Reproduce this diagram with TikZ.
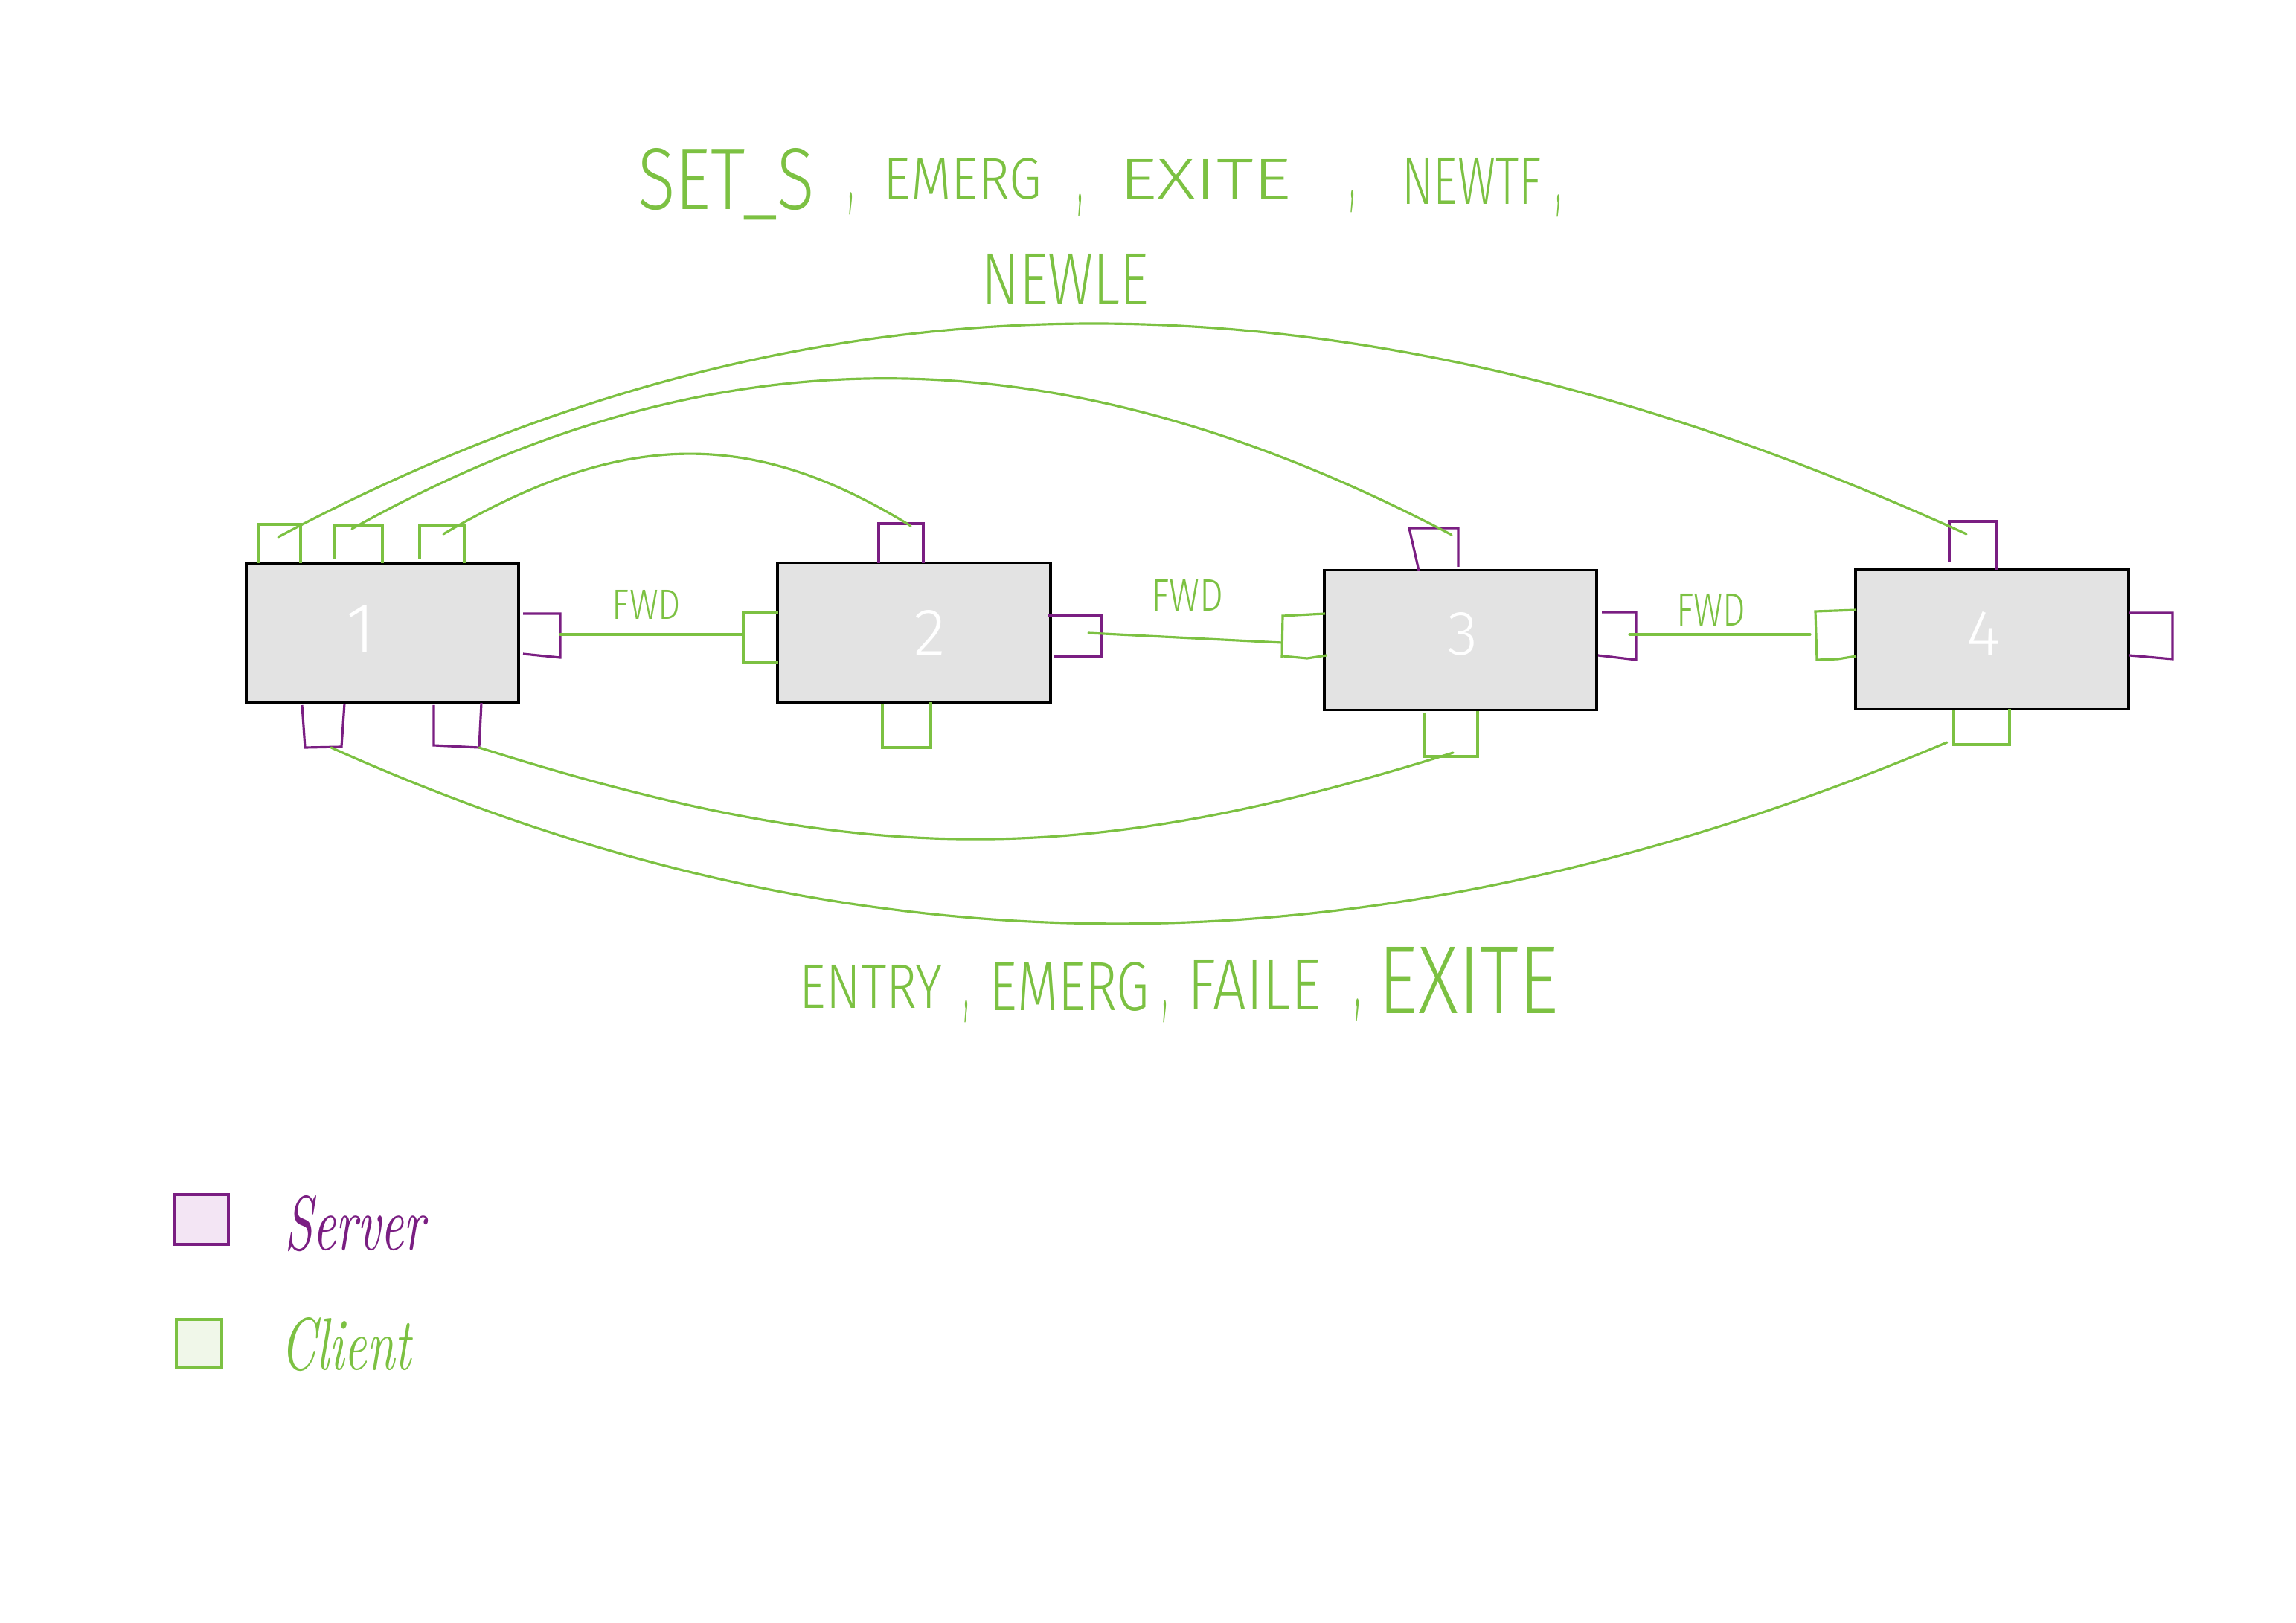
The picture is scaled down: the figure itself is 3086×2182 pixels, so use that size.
\documentclass[tikz,border=0pt]{standalone}
\usepackage{fontspec}
\usepackage{graphicx}
\newfontfamily\handfont{Fira Sans Light}
\definecolor{cgreen}{RGB}{124,193,66}
\definecolor{cpurple}{RGB}{122,30,130}
\definecolor{boxgray}{RGB}{227,227,227}
\definecolor{lpurple}{RGB}{243,229,244}
\definecolor{lgreen}{RGB}{240,247,233}
\newcommand{\hwtext}[3]{\resizebox{#1}{#2}{\handfont #3}}
\newcommand{\hwcomma}{\resizebox*{0.07cm}{0.30cm}{\handfont ,}}
\begin{document}
\begin{tikzpicture}[x=0.01cm,y=-0.01cm,
  boxnode/.style={draw=black,fill=boxgray,line width=1.1pt,inner sep=0pt,minimum width=3.66cm,minimum height=1.88cm},
  numlabel/.style={text=white,inner sep=0pt,anchor=base},
  gtext/.style={text=cgreen,inner sep=0pt,anchor=base},
  commanode/.style={text=cgreen,inner sep=0pt,anchor=center},
  clientstub/.style={draw=cgreen,line width=0.9pt,line join=miter},
  serverstub/.style={draw=cpurple,line width=0.9pt,line join=miter},
  link/.style={draw=cgreen,line width=0.9pt,line cap=round}]
\fill[white] (0,0) rectangle (3086,2182);
\useasboundingbox (0,0) rectangle (3086,2182);

% boxes
\node[boxnode] (b1) at (514,851) {};
\node[boxnode] (b2) at (1228.5,850.5) {};
\node[boxnode] (b3) at (1963,860.5) {};
\node[boxnode] (b4) at (2677.5,859.5) {};

\node[numlabel] (n1) at (485,878) {\resizebox{!}{0.63cm}{\handfont 1}};
\node[numlabel] (n2) at (1250,880) {\resizebox{!}{0.60cm}{\handfont 2}};
\node[numlabel] (n3) at (1966,880) {\resizebox{!}{0.57cm}{\handfont 3}};
\node[numlabel] (n4) at (2666,882) {\resizebox{!}{0.59cm}{\handfont 4}};

% stubs box 1
\draw[clientstub] (347,757) -- (347,705) -- (404,705) -- (404,757);
\draw[clientstub] (449,752) -- (449,707) -- (514,707) -- (514,757);
\draw[clientstub] (564,752) -- (564,707) -- (624,707) -- (624,757);
\draw[serverstub] (703,825) -- (753,825) -- (753,884) -- (703,879);
\draw[serverstub] (406,948) -- (410,1005) -- (459,1004) -- (463,946);
\draw[serverstub] (583,948) -- (583,1002) -- (644,1005) -- (647,945);
% stubs box 2
\draw[clientstub] (1046,823) -- (999,823) -- (999,891) -- (1046,891);
\draw[serverstub] (1181,757) -- (1181,704) -- (1241,704) -- (1241,757);
\draw[serverstub] (1408,828) -- (1480,828) -- (1480,882) -- (1416,882);
\draw[clientstub] (1186,946) -- (1186,1005) -- (1251,1005) -- (1251,944);
% stubs box 3
\draw[clientstub] (1781,825) -- (1724,828) -- (1723,884);
\draw[clientstub] (1724,882) -- (1757,885) -- (1783,881);
\draw[serverstub] (1907,767) -- (1894,710) -- (1960,710) -- (1960,762);
\draw[serverstub] (2153,823) -- (2199,823) -- (2199,887) -- (2148,881);
\draw[clientstub] (1914,958) -- (1914,1017) -- (1986,1017) -- (1986,956);
% stubs box 4
\draw[clientstub] (2495,820) -- (2440,822) -- (2442,887) -- (2470,886) -- (2495,882);
\draw[serverstub] (2620,756) -- (2620,701) -- (2684,701) -- (2684,766);
\draw[serverstub] (2862,824) -- (2920,824) -- (2920,886) -- (2862,881);
\draw[clientstub] (2626,955) -- (2626,1001) -- (2701,1001) -- (2701,953);

% connector end points
\coordinate (a1) at (374,722);
\coordinate (a4) at (2643,718);
\coordinate (c1b) at (473,711);
\coordinate (c3t) at (1951,719);
\coordinate (c1c) at (596,718);
\coordinate (c2t) at (1224,707);
\coordinate (d1) at (445,1005);
\coordinate (d4) at (2617,998);
\coordinate (e1) at (644,1005);
\coordinate (e3) at (1953,1012);
\coordinate (f1s) at (753,853);
\coordinate (f1e) at (999,853);
\coordinate (f2s) at (1463,851);
\coordinate (f2e) at (1723,864);
\coordinate (f3s) at (2190,853);
\coordinate (f3e) at (2433,853);

% connectors
\draw[link] (a1) .. controls (1092,340) and (1814,340) .. (a4);
\draw[link] (c1b) .. controls (960,440) and (1420,440) .. (c3t);
\draw[link] (c1c) .. controls (838,576) and (1012,576) .. (c2t);
\draw[link] (e1) .. controls (1158,1168) and (1455,1168) .. (e3);
\draw[link] (d1) .. controls (1150,1322) and (1850,1322) .. (d4);
\draw[link] (f1s) -- (f1e);
\draw[link] (f2s) -- (f2e);
\draw[link] (f3s) -- (f3e);

% FWD labels
\node[gtext] (fwd1) at (869,832) {\hwtext{0.92cm}{0.39cm}{FWD}};
\node[gtext] (fwd2) at (1596,822) {\hwtext{0.97cm}{0.42cm}{FWD}};
\node[gtext] (fwd3) at (2300,842) {\hwtext{0.93cm}{0.43cm}{FWD}};

% top message list
\node[gtext] (t1) at (976,282) {\hwtext{2.37cm}{0.82cm}{SET\_S}};
\node[commanode] (tc1) at (1144,274) {\hwcomma};
\node[gtext] (t2) at (1294,268) {\hwtext{2.12cm}{0.55cm}{EMERG}};
\node[commanode] (tc2) at (1452,276) {\hwcomma};
\node[gtext] (t3) at (1620,268) {\hwtext{2.31cm}{0.53cm}{EXITE}};
\node[commanode] (tc3) at (1818,271) {\hwcomma};
\node[gtext] (t4) at (1978,275) {\hwtext{1.87cm}{0.62cm}{NEWTF}};
\node[commanode] (tc4) at (2095,277) {\hwcomma};
\node[gtext] (t5) at (1432,410) {\hwtext{2.25cm}{0.68cm}{NEWLE}};

% bottom message list
\node[gtext] (u1) at (1171,1355) {\hwtext{1.92cm}{0.58cm}{ENTRY}};
\node[commanode] (uc1) at (1299,1360) {\hwcomma};
\node[gtext] (u2) at (1438,1358) {\hwtext{2.14cm}{0.65cm}{EMERG}};
\node[commanode] (uc2) at (1566,1360) {\hwcomma};
\node[gtext] (u3) at (1686,1357) {\hwtext{1.79cm}{0.67cm}{FAILE}};
\node[commanode] (uc3) at (1825,1358) {\hwcomma};
\node[gtext] (u4) at (1974,1362) {\hwtext{2.42cm}{0.89cm}{EXITE}};

% legend
\node[draw=cpurple,fill=lpurple,line width=0.9pt,inner sep=0pt,minimum width=0.73cm,minimum height=0.67cm] (lsrv) at (270.5,1639.5) {};
\node[draw=cgreen,fill=lgreen,line width=0.9pt,inner sep=0pt,minimum width=0.61cm,minimum height=0.64cm] (lcli) at (267.5,1806) {};
\node[text=cpurple,inner sep=0pt,anchor=base] (tsrv) at (477,1680) {\resizebox{1.89cm}{0.73cm}{\itshape Server}};
\node[text=cgreen,inner sep=0pt,anchor=base] (tcli) at (465,1841) {\resizebox{1.75cm}{0.70cm}{\itshape Client}};
\end{tikzpicture}
\end{document}
